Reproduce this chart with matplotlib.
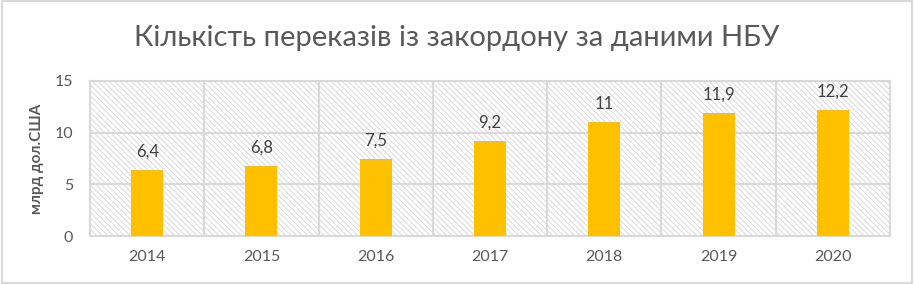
import matplotlib.pyplot as plt
import numpy as np

plt.rcParams['font.family'] = ['Lato', 'DejaVu Sans']
plt.rcParams['hatch.linewidth'] = 0.6

years = ['2014', '2015', '2016', '2017', '2018', '2019', '2020']
values = [6.4, 6.8, 7.5, 9.2, 11, 11.9, 12.2]
labels = ['6,4', '6,8', '7,5', '9,2', '11', '11,9', '12,2']

grey = '#595959'
gridc = '#d9d9d9'

fig = plt.figure(figsize=(9.14, 2.84), dpi=100)
ax = fig.add_axes([90 / 914, 1 - 236 / 284, 800 / 914, 155 / 284])

# hatched plot area background
ax.patch.set_facecolor('white')
ax.patch.set_hatch('\\\\\\\\\\\\')
ax.patch.set_edgecolor('#d4d4d4')

x = np.arange(len(years))
ax.bar(x, values, width=0.28, color='#ffc000', zorder=3)
for xi, v, lab in zip(x, values, labels):
    ax.text(xi, v + 1.0, lab, ha='center', va='bottom', fontsize=12, color='#404040')

ax.set_xlim(-0.5, len(years) - 0.5)
ax.set_ylim(0, 15)
ax.set_yticks([0, 5, 10, 15])
ax.set_xticks(x)
ax.set_xticklabels(years)
ax.tick_params(length=0, labelsize=11.5, labelcolor=grey, pad=10)
ax.tick_params(axis='y', pad=12)

# gridlines incl. vertical ones at category boundaries
for yv in [5, 10, 15]:
    ax.axhline(yv, color=gridc, lw=1.5, zorder=1)
for b in np.arange(0.5, len(years) - 0.5, 1):
    ax.axvline(b, color=gridc, lw=1.5, zorder=1)
for s in ax.spines.values():
    s.set_color(gridc)
    s.set_linewidth(1.5)

ax.set_ylabel('млрд дол.США', fontsize=11, fontweight='bold', color=grey, labelpad=8)

fig.text(0.5, 1 - 38 / 284, 'Кількість переказів із закордону за даними НБУ',
         ha='center', va='center', fontsize=21, color=grey)

# outer chart border
fig.patches.append(plt.Rectangle((0.002, 0.004), 0.996, 0.992, transform=fig.transFigure,
                                 fill=False, edgecolor=gridc, lw=1.5))

fig.savefig('out.png', dpi=100)
